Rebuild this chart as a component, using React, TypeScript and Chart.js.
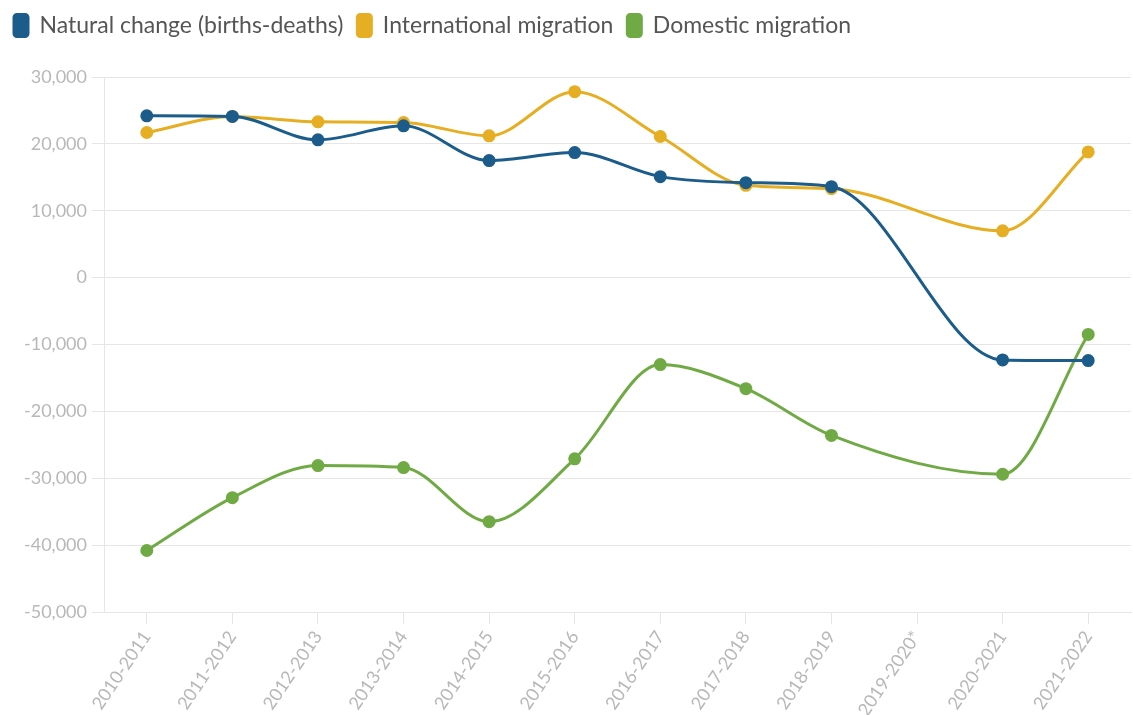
import React, { useEffect, useRef } from "react";
import { Chart, registerables } from "chart.js";

Chart.register(...registerables);

const categories = [
  "2010-2011", "2011-2012", "2012-2013", "2013-2014", "2014-2015", "2015-2016",
  "2016-2017", "2017-2018", "2018-2019", "2019-2020*", "2020-2021", "2021-2022",
];
const naturalChange = [24200, 24100, 20600, 22700, 17500, 18700, 15100, 14200, 13600, null, -12300, -12400];
const internationalMigration = [21700, 24100, 23300, 23200, 21200, 27800, 21100, 13800, 13300, null, 7000, 18800];
const domesticMigration = [-40800, -32900, -28100, -28400, -36500, -27100, -13000, -16600, -23600, null, -29400, -8500];
const yTicks = [30000, 20000, 10000, 0, -10000, -20000, -30000, -40000, -50000];

const FONT = "Lato, 'Noto Sans', sans-serif";

const legendHeight = {
  id: "legendHeight",
  beforeInit(chart: any) {
    const orig = chart.legend.fit;
    chart.legend.fit = function () {
      orig.bind(chart.legend)();
      this.height = 77;
    };
  },
};

export default function App() {
  const ref = useRef<HTMLCanvasElement>(null);
  useEffect(() => {
    if (!ref.current) return;
    const mk = (label: string, data: (number | null)[], color: string) => ({
      label,
      data,
      borderColor: color,
      backgroundColor: color,
      borderWidth: 3,
      pointRadius: 5,
      pointHoverRadius: 5,
      pointBackgroundColor: color,
      pointBorderColor: color,
      cubicInterpolationMode: "monotone" as const,
      spanGaps: true,
    });
    const chart = new Chart(ref.current, {
      type: "line",
      plugins: [legendHeight],
      data: {
        labels: categories,
        datasets: [
          mk("Natural change (births-deaths)", naturalChange, "#1c5c8a"),
          mk("International migration", internationalMigration, "#e6ae22"),
          mk("Domestic migration", domesticMigration, "#70aa45"),
        ],
      },
      options: {
        animation: false,
        responsive: false,
        maintainAspectRatio: false,
        layout: { padding: { left: 0, right: 0, top: 0, bottom: 0 } },
        plugins: {
          legend: {
            position: "top",
            align: "start",
            labels: {
              boxWidth: 14,
              boxHeight: 22,
              useBorderRadius: true,
              borderRadius: 3,
              padding: 14,
              color: "#555",
              font: { family: FONT, size: 23 },
            },
          },
          tooltip: { enabled: false },
        },
        scales: {
          x: {
            offset: true,
            grid: { offset: false, drawOnChartArea: false, drawTicks: true, tickLength: 12, color: "#e6e6e6" },
            border: { color: "#e6e6e6" },
            ticks: {
              color: "#b8b8b8",
              font: { family: FONT, size: 18 },
              maxRotation: 56,
              minRotation: 56,
              autoSkip: false,
            },
            afterFit: (s: any) => {
              s.height = 103;
              s.paddingLeft = 0;
              s.paddingRight = 0;
            },
          },
          y: {
            min: -50000,
            max: 30000,
            afterBuildTicks: (s: any) => { s.ticks = yTicks.map((v) => ({ value: v })); },
            grid: { color: "#e6e6e6", tickLength: 12 },
            border: { color: "#e6e6e6" },
            ticks: {
              color: "#b8b8b8",
              padding: 5,
              font: { family: FONT, size: 18 },
              callback: (v: any) => Number(v).toLocaleString("en-US"),
            },
            afterFit: (s: any) => { s.width = 104; },
          },
        },
      },
    });
    return () => chart.destroy();
  }, []);
  return (
    <div style={{ position: "absolute", left: 0, top: 0, width: 1133, height: 715, overflow: "hidden" }}>
      <canvas ref={ref} width={1139} height={715} style={{ width: 1139, height: 715, display: "block" }} />
    </div>
  );
}
